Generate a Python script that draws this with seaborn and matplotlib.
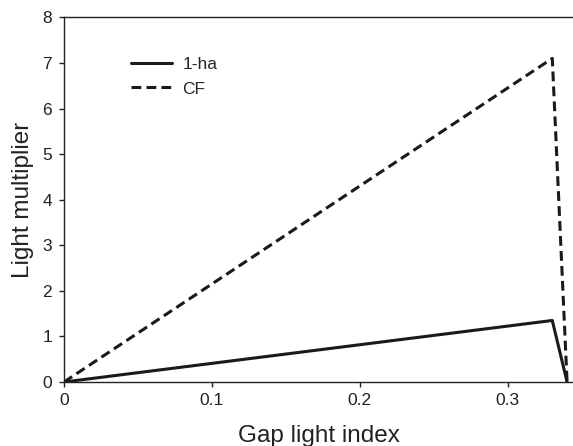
import matplotlib
matplotlib.use("Agg")
import matplotlib.pyplot as plt
import seaborn as sns
import pandas as pd

# Light multiplier as a function of the gap light index
gap_light_index = [0.0, 0.33, 0.34]
one_ha = [0.0, 1.35, 0.0]
cf = [0.0, 7.1, 0.0]
series_names = ["1-ha", "CF"]

df = pd.DataFrame({
    "gli": gap_light_index * 2,
    "mult": one_ha + cf,
    "series": [series_names[0]] * len(one_ha) + [series_names[1]] * len(cf),
})

sns.set_theme(style="ticks")
plt.rcParams["font.family"] = ["Liberation Sans", "DejaVu Sans"]

fig = plt.figure(figsize=(5.73, 4.46), dpi=100)
ax = fig.add_axes([0.1117, 0.1435, 0.8883, 0.8175])

sns.lineplot(data=df, x="gli", y="mult", style="series", color="#1a1a1a",
             dashes={"1-ha": "", "CF": (3.2, 1.7)}, linewidth=2.2,
             sort=False, estimator=None, ax=ax)

ax.set_xlim(0, 0.344)
ax.set_ylim(0, 8)
ax.set_xticks([0, 0.1, 0.2, 0.3])
ax.set_xticklabels(["0", "0.1", "0.2", "0.3"])
ax.set_yticks(range(0, 9))
ax.tick_params(labelsize=12.5, colors="#222222", length=3.5, width=1)
ax.tick_params(axis="x", pad=4.5)
ax.tick_params(axis="y", pad=5)
ax.set_xlabel("Gap light index", fontsize=17.5, color="#222222", labelpad=12)
ax.set_ylabel("Light multiplier", fontsize=17.5, color="#222222", labelpad=6)

for side in ["left", "bottom", "top"]:
    ax.spines[side].set_color("#222222")
    ax.spines[side].set_linewidth(1.0)
ax.spines["right"].set_visible(False)

leg = ax.legend(loc="upper left", bbox_to_anchor=(0.10, 0.935), frameon=False,
                fontsize=12.5, handlelength=2.4, handletextpad=0.6,
                labelspacing=0.55)

fig.savefig("out.png", dpi=100)
